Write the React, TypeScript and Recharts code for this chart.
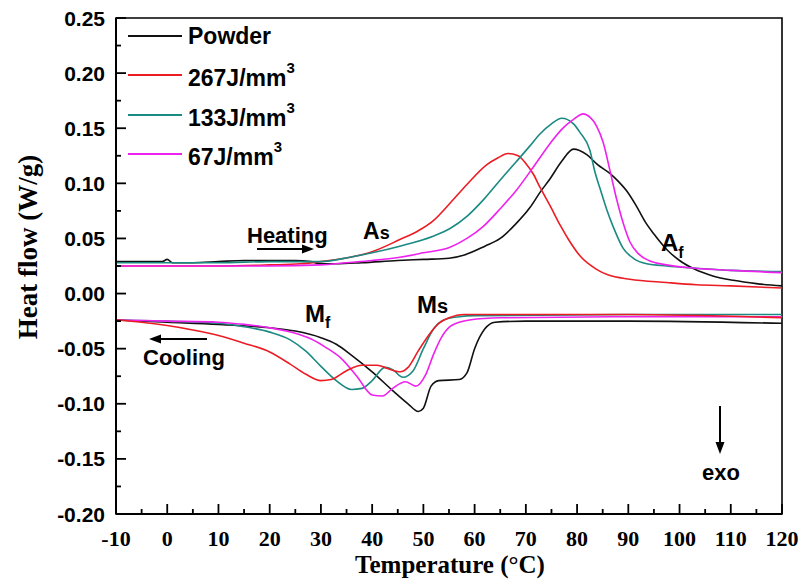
import React from 'react';
import { LineChart, Line, XAxis, YAxis, ReferenceArea, Legend } from 'recharts';

type Pt = [number, number];

const temperatureTicks = [-10, -5, 0, 5, 10, 15, 20, 25, 30, 35, 40, 45, 50, 55, 60, 65, 70, 75, 80, 85, 90, 95, 100, 105, 110, 115, 120];
const temperatureLabels = ['-10', '0', '10', '20', '30', '40', '50', '60', '70', '80', '90', '100', '110', '120'];
const heatFlowTicks = [-0.2, -0.175, -0.15, -0.125, -0.1, -0.075, -0.05, -0.025, 0, 0.025, 0.05, 0.075, 0.1, 0.125, 0.15, 0.175, 0.2, 0.225, 0.25];
const heatFlowLabels = ['-0.20', '-0.15', '-0.10', '-0.05', '0.00', '0.05', '0.10', '0.15', '0.20', '0.25'];

const seriesNames = ['Powder', '267J/mm', '133J/mm', '67J/mm'];
const seriesSup = ['', '3', '3', '3'];
const seriesColors = ['#111111', '#ec1c24', '#1a8a82', '#ee22ee'];

const powderHeating: Pt[] = [
  [-10, 0.029], [-5, 0.029], [-1, 0.029], [0, 0.031], [1, 0.028], [5, 0.028], [10, 0.029], [15, 0.03],
  [20, 0.03], [25, 0.03], [28, 0.029], [30, 0.027], [33, 0.027], [38, 0.028], [45, 0.03], [50, 0.031],
  [55, 0.032], [58, 0.035], [62, 0.043], [65, 0.05], [68, 0.063], [70.8, 0.078], [72.8, 0.092], [74.7, 0.104],
  [77, 0.12], [79.3, 0.131], [81.9, 0.126], [84, 0.117], [86.4, 0.109], [88, 0.102], [89.7, 0.093], [91.5, 0.08],
  [93.3, 0.065], [95, 0.054], [97.5, 0.04], [100, 0.03], [103, 0.022], [106.5, 0.016], [110.5, 0.012], [115, 0.009], [120, 0.007],
];
const j267Heating: Pt[] = [
  [-10, 0.025], [0, 0.025], [10, 0.025], [20, 0.026], [26, 0.027], [30, 0.029], [35.7, 0.033], [40, 0.038],
  [45.4, 0.049], [49, 0.057], [51.9, 0.066], [55.2, 0.082], [58.5, 0.099], [62.4, 0.117], [64.5, 0.123], [66.5, 0.127],
  [68.5, 0.125], [70, 0.118], [71.5, 0.108], [72.8, 0.096], [74.7, 0.08], [76.7, 0.062], [78.6, 0.047], [80.6, 0.034],
  [83.8, 0.022], [86, 0.017], [90.3, 0.013], [97.5, 0.01], [103.3, 0.008], [110, 0.007], [120, 0.005],
];
const j133Heating: Pt[] = [
  [-10, 0.028], [0, 0.028], [10, 0.028], [20, 0.029], [30, 0.029], [35.7, 0.033], [40, 0.037], [45.4, 0.043],
  [51.9, 0.052], [55.2, 0.059], [58.5, 0.07], [61.7, 0.085], [65, 0.103], [68.2, 0.12], [70.8, 0.134], [72.8, 0.145],
  [75, 0.154], [77, 0.159], [79.3, 0.154], [80.6, 0.146], [82.5, 0.13], [83.5, 0.11], [84.5, 0.095], [85.8, 0.076],
  [87.1, 0.06], [89, 0.041], [91, 0.032], [93.6, 0.027], [97.5, 0.025], [103.3, 0.023], [110, 0.021], [120, 0.02],
];
const j67Heating: Pt[] = [
  [-10, 0.025], [0, 0.025], [10, 0.025], [20, 0.025], [30, 0.026], [35, 0.028], [40, 0.03], [45.4, 0.033],
  [50, 0.037], [55.2, 0.042], [58.5, 0.05], [61.7, 0.061], [65, 0.077], [68.2, 0.094], [71.5, 0.115], [74.7, 0.136],
  [77, 0.149], [79.3, 0.158], [81.2, 0.163], [82.5, 0.16], [83.8, 0.152], [85.1, 0.137], [86.4, 0.112], [87.7, 0.086],
  [89, 0.064], [90.3, 0.047], [92, 0.036], [94, 0.03], [97.5, 0.026], [103, 0.023], [110, 0.021], [120, 0.019],
];

const powderCooling: Pt[] = [
  [-10, -0.024], [0, -0.026], [10, -0.028], [20, -0.031], [25, -0.034], [30, -0.04], [33, -0.046], [36, -0.056],
  [40, -0.071], [44, -0.088], [47, -0.1], [49, -0.107], [50, -0.104], [51.5, -0.084], [53, -0.079], [57, -0.078],
  [58.5, -0.072], [60, -0.05], [62, -0.032], [64, -0.026], [70, -0.025], [90, -0.025], [120, -0.027],
];
const j267Cooling: Pt[] = [
  [-10, -0.024], [-5, -0.026], [0, -0.029], [5, -0.033], [10, -0.038], [15, -0.045], [20, -0.053], [24, -0.064],
  [27, -0.073], [30, -0.079], [32, -0.078], [35, -0.07], [38, -0.065], [41, -0.065], [43, -0.068], [45.5, -0.071],
  [47, -0.067], [49, -0.052], [51, -0.038], [53, -0.027], [55, -0.022], [58, -0.019], [70, -0.019], [90, -0.019], [120, -0.022],
];
const j133Cooling: Pt[] = [
  [-10, -0.024], [0, -0.025], [10, -0.027], [15, -0.03], [20, -0.035], [24, -0.042], [27, -0.052], [30, -0.066],
  [33, -0.079], [36, -0.087], [38, -0.086], [40, -0.079], [42.5, -0.067], [44, -0.069], [46, -0.076], [48, -0.07],
  [50, -0.05], [52, -0.032], [54, -0.024], [57, -0.021], [60, -0.02], [90, -0.019], [120, -0.019],
];
const j67Cooling: Pt[] = [
  [-10, -0.024], [0, -0.025], [10, -0.026], [15, -0.028], [20, -0.031], [25, -0.036], [28, -0.041], [31, -0.049],
  [34, -0.059], [37, -0.075], [40, -0.092], [42, -0.093], [44, -0.086], [46.5, -0.08], [48.5, -0.084], [50.5, -0.073],
  [52, -0.055], [53.5, -0.04], [55.5, -0.029], [59, -0.024], [65, -0.022], [90, -0.021], [120, -0.021],
];

const curves: { id: string; color: string; pts: Pt[] }[] = [
  { id: 'powder-c', color: seriesColors[0], pts: powderCooling },
  { id: 'j133-c', color: seriesColors[2], pts: j133Cooling },
  { id: 'j67-c', color: seriesColors[3], pts: j67Cooling },
  { id: 'j267-c', color: seriesColors[1], pts: j267Cooling },
  { id: 'powder-h', color: seriesColors[0], pts: powderHeating },
  { id: 'j267-h', color: seriesColors[1], pts: j267Heating },
  { id: 'j133-h', color: seriesColors[2], pts: j133Heating },
  { id: 'j67-h', color: seriesColors[3], pts: j67Heating },
];

const toRows = (pts: Pt[]) => pts.map(([t, q]) => ({ t, q }));

const SANS = '"Liberation Sans", Arial, sans-serif';
const SERIF = '"Liberation Serif", "Times New Roman", serif';

const YTick = (props: any) => {
  const { x, y, index } = props;
  const major = index % 2 === 0;
  const label = major ? heatFlowLabels[index / 2] : '';
  return (
    <g>
      <line x1={x} x2={x + (major ? 10 : 5)} y1={y} y2={y} stroke="#000" strokeWidth={1.8} />
      {major && (
        <text x={x - 11} y={y} dy="0.36em" textAnchor="end" fontFamily={SANS} fontWeight="bold" fontSize={21} fill="#000">
          {label}
        </text>
      )}
    </g>
  );
};

const XTick = (props: any) => {
  const { x, y, index } = props;
  const major = index % 2 === 0;
  const label = major ? temperatureLabels[index / 2] : '';
  return (
    <g>
      <line x1={x} x2={x} y1={y} y2={y - (major ? 10 : 5)} stroke="#000" strokeWidth={1.8} />
      {major && (
        <text x={x} y={y + 32} textAnchor="middle" fontFamily={SERIF} fontWeight="bold" fontSize={22} fill="#000">
          {label}
        </text>
      )}
    </g>
  );
};

const LegendBox = () => (
  <div style={{ display: 'flex', flexDirection: 'column' }}>
    {seriesNames.map((n, i) => (
      <div key={n} style={{ height: 39.5, display: 'flex', alignItems: 'center' }}>
        <div style={{ width: 54, height: 2, background: seriesColors[i], marginRight: 6 }} />
        <span style={{ fontFamily: SANS, fontWeight: 'bold', fontSize: 23, color: '#000', lineHeight: '26px' }}>
          {n}
          {seriesSup[i] && <sup style={{ fontSize: 15, position: 'relative', top: -4 }}>{seriesSup[i]}</sup>}
        </span>
      </div>
    ))}
  </div>
);

const Arrow = ({ x1, y1, x2, y2 }: { x1: number; y1: number; x2: number; y2: number }) => {
  const dx = x2 - x1;
  const dy = y2 - y1;
  const len = Math.hypot(dx, dy);
  const ux = dx / len;
  const uy = dy / len;
  const hl = 12;
  const hw = 4.5;
  const bx = x2 - ux * hl;
  const by = y2 - uy * hl;
  return (
    <g>
      <line x1={x1} y1={y1} x2={bx} y2={by} stroke="#000" strokeWidth={2} />
      <polygon points={`${x2},${y2} ${bx - uy * hw},${by + ux * hw} ${bx + uy * hw},${by - ux * hw}`} fill="#000" />
    </g>
  );
};

export default function App() {
  return (
    <div style={{ position: 'fixed', left: 0, top: 0, width: 802, height: 587, background: '#fff' }}>
      <LineChart width={802} height={587} margin={{ top: 18, right: 20, bottom: 13, left: 16 }}>
        <ReferenceArea x1={-10} x2={120} y1={-0.2} y2={0.25} fill="none" stroke="#000" strokeWidth={1.6} ifOverflow="visible" />
        <XAxis
          dataKey="t"
          type="number"
          domain={[-10, 120]}
          ticks={temperatureTicks}
          allowDataOverflow
          height={60}
          tickSize={0}
          tickMargin={0}
          tickLine={false}
          axisLine={{ stroke: '#000', strokeWidth: 2 }}
          tick={<XTick />}
          interval={0}
        />
        <YAxis
          type="number"
          domain={[-0.2, 0.25]}
          ticks={heatFlowTicks}
          allowDataOverflow
          width={100}
          tickSize={0}
          tickMargin={0}
          tickLine={false}
          axisLine={{ stroke: '#000', strokeWidth: 2 }}
          tick={<YTick />}
          interval={0}
        />
        {curves.map((c) => (
          <Line
            key={c.id}
            data={toRows(c.pts)}
            dataKey="q"
            type="monotone"
            stroke={c.color}
            strokeWidth={1.6}
            dot={false}
            activeDot={false}
            legendType="none"
            isAnimationActive={false}
          />
        ))}
        <Legend
          layout="vertical"
          align="center"
          verticalAlign="middle"
          content={<LegendBox />}
          wrapperStyle={{ left: 128, top: 16, width: 200 }}
        />
      </LineChart>
      <svg width={802} height={587} style={{ position: 'absolute', left: 0, top: 0, pointerEvents: 'none' }}>
        <text transform="translate(37,247) rotate(-90)" textAnchor="middle" fontFamily={SERIF} fontWeight="bold" fontSize={27} fill="#000">
          Heat flow (W/g)
        </text>
        <text x={450} y={573} textAnchor="middle" fontFamily={SERIF} fontWeight="bold" fontSize={25} fill="#000">
          Temperature (°C)
        </text>
        <g fontFamily={SANS} fontWeight="bold" fill="#000">
          <text x={247} y={243} fontSize={22}>Heating</text>
          <text x={363} y={239} fontSize={23}>
            A<tspan fontSize={18}>s</tspan>
          </text>
          <text x={661} y={251} fontSize={24}>
            A<tspan fontSize={16} dy={7}>f</tspan>
          </text>
          <text x={305} y={322} fontSize={24}>
            M<tspan fontSize={16} dy={6}>f</tspan>
          </text>
          <text x={417} y={313} fontSize={24}>
            M<tspan fontSize={20}>s</tspan>
          </text>
          <text x={143} y={365} fontSize={22}>Cooling</text>
          <text x={702} y={480} fontSize={22}>exo</text>
        </g>
        <Arrow x1={257} y1={249} x2={314} y2={249} />
        <Arrow x1={207} y1={339} x2={149} y2={339} />
        <Arrow x1={720} y1={406} x2={720} y2={454} />
      </svg>
    </div>
  );
}
